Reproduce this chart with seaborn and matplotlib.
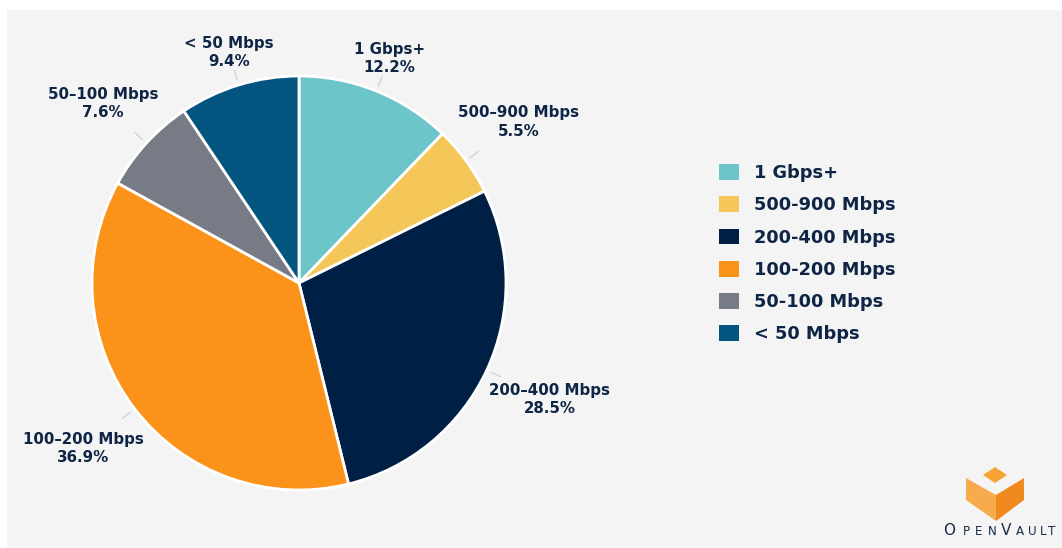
import numpy as np
import matplotlib
matplotlib.use("Agg")
import matplotlib.pyplot as plt
import seaborn as sns
from matplotlib.patches import Rectangle, Polygon

# data
legend_labels = ["1 Gbps+", "500-900 Mbps", "200-400 Mbps", "100-200 Mbps", "50-100 Mbps", "< 50 Mbps"]
pie_labels = ["1 Gbps+", "500\u2013900 Mbps", "200\u2013400 Mbps", "100\u2013200 Mbps", "50\u2013100 Mbps", "< 50 Mbps"]
shares = [12.2, 5.5, 28.5, 36.9, 7.6, 9.4]
colors = ["#6cc5c8", "#f5c758", "#001f45", "#fb931b", "#767b85", "#03557f"]

sns.set_theme(style="white")
plt.rcParams["font.family"] = ["DejaVu Sans"]
navy = "#0f2545"

W, H = 1062, 548
fig = plt.figure(figsize=(W / 100, H / 100), dpi=100, facecolor="white")

# background panel + logo layer (pixel coordinates)
bg = fig.add_axes([0, 0, 1, 1], zorder=-1)
bg.set_xlim(0, W)
bg.set_ylim(H, 0)
bg.axis("off")
bg.add_patch(Rectangle((7, 10), W - 7, H - 10, color="#f4f4f4", lw=0))

# pie axes: centre (299, 283) px, radius 207 px
R = 207
half = 250
pie_ax = fig.add_axes([(299 - half) / W, (H - 283 - half) / H, 2 * half / W, 2 * half / H])
wedges, _ = pie_ax.pie(shares, colors=colors, startangle=90, counterclock=False,
                       wedgeprops=dict(edgecolor="white", linewidth=2))
lim = half / R
pie_ax.set_xlim(-lim, lim)
pie_ax.set_ylim(-lim, lim)
pie_ax.axis("off")

texts = []
for w, lab, val in zip(wedges, pie_labels, shares):
    ang = np.deg2rad((w.theta1 + w.theta2) / 2)
    dx, dy = np.cos(ang), np.sin(ang)
    pie_ax.plot([1.025 * dx, 1.075 * dx], [1.025 * dy, 1.075 * dy], color="#c9cdd2", lw=0.8)
    t = pie_ax.text(1.2 * dx, 1.2 * dy, f"{lab}\n{val}%", ha="center", va="center",
                    multialignment="center", fontsize=10.8, fontweight="bold",
                    color=navy, linespacing=1.3)
    texts.append((t, dx, dy))

# push each label box out along its wedge's mid-angle until its nearest corner
# sits just outside the pie
fig.canvas.draw()
r = fig.canvas.get_renderer()
D = 215.0
for t, dx, dy in texts:
    bb = t.get_window_extent(r)
    a, b = bb.width / 2, bb.height / 2
    lo, hi = 0.0, 600.0
    for _ in range(60):
        s = (lo + hi) / 2
        gx = max(abs(s * dx) - a, 0.0)
        gy = max(abs(s * dy) - b, 0.0)
        if np.hypot(gx, gy) < D:
            lo = s
        else:
            hi = s
    t.set_position((s * dx / R, s * dy / R))

leg = fig.legend(wedges, legend_labels, loc="upper left",
                 bbox_to_anchor=(719 / W, 1 - 164 / H), bbox_transform=fig.transFigure,
                 frameon=False, prop=dict(weight="bold", size=12.8),
                 handlelength=1.12, handleheight=1.0, handletextpad=0.84,
                 labelspacing=0.80, borderpad=0, borderaxespad=0)
for txt in leg.get_texts():
    txt.set_color(navy)
for h in leg.legend_handles:
    h.set_edgecolor("none")

# OpenVault logo
bg.add_patch(Polygon([(983, 475), (995, 467), (1007, 475), (995, 483)], color="#f7a334", lw=0))
bg.add_patch(Polygon([(966, 478), (996, 495), (996, 521), (966, 500)], color="#f8ab4c", lw=0))
bg.add_patch(Polygon([(1024, 478), (996, 495), (996, 521), (1024, 500)], color="#f08a1e", lw=0))
logo_chars = ["O", "P", "E", "N", "V", "A", "U", "L", "T"]
logo_x = [949, 966, 979, 992.5, 1006.5, 1019.5, 1032.5, 1043, 1052]
for ch, x in zip(logo_chars, logo_x):
    big = ch in ("O", "V")
    bg.text(x, 535, ch, ha="center", va="baseline", fontsize=11 if big else 8.6,
            color="#1a2c4a")

fig.savefig("out.png", dpi=100, facecolor="white")
